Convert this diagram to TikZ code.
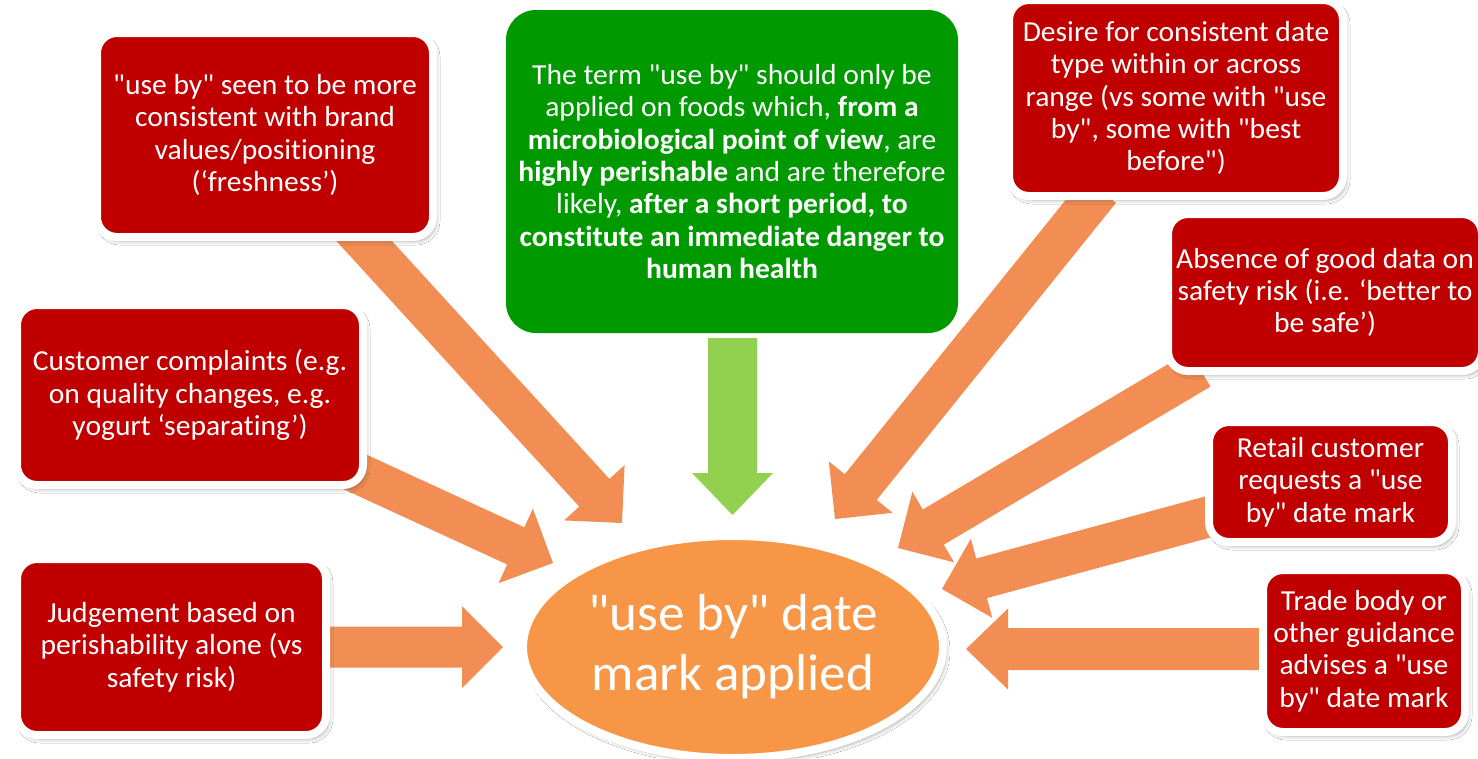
\documentclass[tikz,border=0pt]{standalone}
\usepackage{fontspec}
\newfontfamily\bodyfont[FakeStretch=1.02,Ligatures=NoCommon]{Carlito}
\usetikzlibrary{calc,shapes.geometric,shadows.blur}
\definecolor{boxred}{HTML}{C00000}
\definecolor{boxgreen}{HTML}{009A00}
\definecolor{arrgreen}{HTML}{92D050}
\definecolor{arrorange}{HTML}{F28E54}
\definecolor{ellorange}{HTML}{F79646}
% block arrow: #1 start, #2 tip, #3 half shaft, #4 half head, #5 head length, #6 colour
\newcommand\blkarrow[6]{%
  \coordinate (#2-b) at ($(#2)!#5!(#1)$);
  \fill[#6] ($(#1)!#3!90:(#2)$) -- ($(#2-b)!#3!90:(#2)$) -- ($(#2-b)!#4!90:(#2)$)
    -- (#2) -- ($(#2-b)!#4!-90:(#2)$) -- ($(#2-b)!#3!-90:(#2)$) -- ($(#1)!#3!-90:(#2)$) -- cycle;
}
\begin{document}
\begin{tikzpicture}[x=1pt,y=-1pt,
  redbox/.style={rectangle, rounded corners=20pt, fill=boxred, draw=white, line width=8pt,
    text=white, align=center, inner sep=0pt,
    font=\bodyfont\fontsize{29}{32.3}\selectfont,
    blur shadow={shadow xshift=3pt, shadow yshift=-4pt, shadow blur radius=4pt, shadow opacity=35}},
  greenbox/.style={rectangle, rounded corners=30pt, fill=boxgreen, draw=none,
    text=white, align=center, inner sep=0pt,
    font=\bodyfont\fontsize{29}{32.3}\selectfont},
  centre/.style={ellipse, fill=ellorange, draw=white, line width=8pt, inner sep=0pt,
    text=white, align=center, font=\bodyfont\fontsize{52}{60}\selectfont,
    blur shadow={shadow xshift=3pt, shadow yshift=-4pt, shadow blur radius=4pt, shadow opacity=35}}]
\fill[white] (0,0) rectangle (1478,758);
\useasboundingbox (0,0) rectangle (1478,758);

% arrow end points
\coordinate (aS) at (349.5,225);  \coordinate (aT) at (622,523);
\coordinate (bS) at (340,465);    \coordinate (bT) at (553,563);
\coordinate (cS) at (315,647);    \coordinate (cT) at (503,647);
\coordinate (gS) at (732.5,338);  \coordinate (gT) at (732.5,515);
\coordinate (dS) at (1100,190);   \coordinate (dT) at (835,519);
\coordinate (eS) at (1200,369);   \coordinate (eT) at (898,548);
\coordinate (fS) at (1215,515);   \coordinate (fT) at (942,589);
\coordinate (tS) at (1275,649);   \coordinate (tT) at (966,649);

\blkarrow{aS}{aT}{20.5pt}{41pt}{41pt}{arrorange}
\blkarrow{bS}{bT}{20.5pt}{41pt}{41pt}{arrorange}
\blkarrow{cS}{cT}{20.5pt}{41pt}{41pt}{arrorange}
\blkarrow{dS}{dT}{20.5pt}{41pt}{41pt}{arrorange}
\blkarrow{eS}{eT}{20.5pt}{41pt}{41pt}{arrorange}
\blkarrow{fS}{fT}{20.5pt}{41pt}{41pt}{arrorange}
\blkarrow{tS}{tT}{21pt}{40.5pt}{42pt}{arrorange}
\blkarrow{gS}{gT}{24.5pt}{40.5pt}{42pt}{arrgreen}

% boxes
\node[redbox, minimum width=336pt, minimum height=204pt] (brand) at (265,135)
  {"use by" seen to be more\\consistent with brand\\values/positioning\\(‘freshness’)};
\node[redbox, minimum width=346pt, minimum height=180pt] (complaints) at (190,395)
  {Customer complaints (e.g.\\on quality changes, e.g.\\yogurt ‘separating’)};
\node[redbox, minimum width=309pt, minimum height=176pt] (judgement) at (171.5,647)
  {Judgement based on\\perishability alone (vs\\safety risk)};
\node[greenbox, minimum width=452pt, minimum height=323pt] (term) at (732,171.5)
  {The term "use by" should only be\\
   applied on foods which, \textbf{from a}\\
   \textbf{microbiological point of view}, are\\
   \textbf{highly perishable} and are therefore\\
   likely, \textbf{after a short period, to}\\
   \textbf{constitute an immediate danger to}\\
   \textbf{human health}};
\node[redbox, minimum width=334pt, minimum height=196pt] (desire) at (1176,98)
  {Desire for consistent date\\type within or across\\range (vs some with "use\\by", some with "best\\before")};
\node[redbox, minimum width=314pt, minimum height=157pt] (absence) at (1325,292.5)
  {Absence of good data on\\safety risk (i.e. ‘better to\\be safe’)};
\node[redbox, minimum width=243pt, minimum height=120pt] (retail) at (1330.5,482)
  {Retail customer\\requests a "use\\by" date mark};
\node[redbox, minimum width=202pt, minimum height=162pt] (trade) at (1364,651)
  {Trade body or\\other guidance\\advises a "use\\by" date mark};

\node[centre, minimum width=420pt, minimum height=222pt] (mark) at (733,647)
  {"use by" date\\mark applied};
\end{tikzpicture}
\end{document}
